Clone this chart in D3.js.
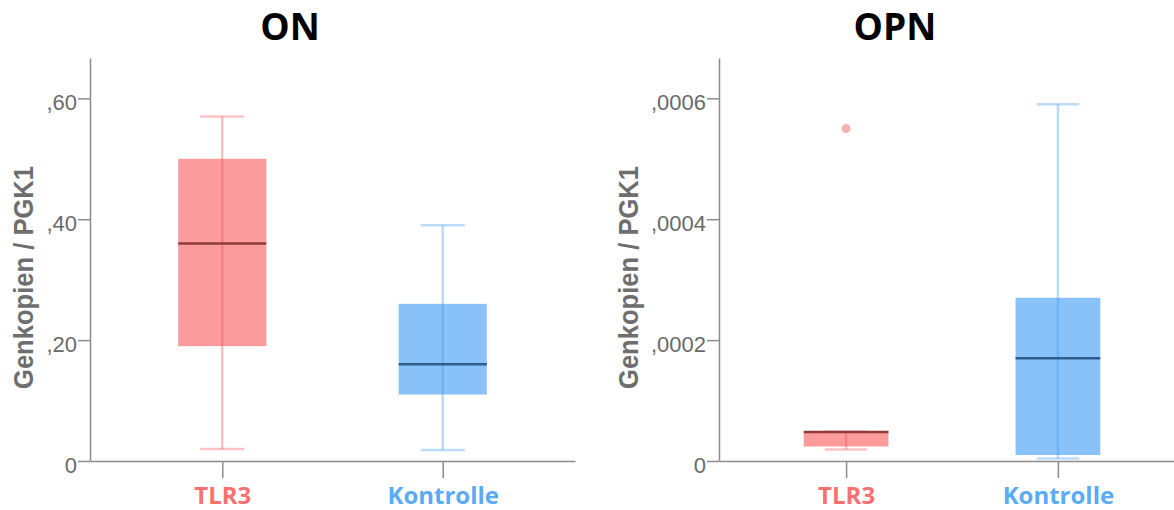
<!DOCTYPE html>
<html>
<head>
<meta charset="utf-8">
<script src="https://cdn.jsdelivr.net/npm/d3@7"></script>
<style>
  html, body { margin: 0; padding: 0; background: #ffffff; }
  svg { display: block; }
</style>
</head>
<body>
<svg id="chart" width="1174" height="510"></svg>
<script>
// Groups on the x axis
const categories = ["TLR3", "Kontrolle"];
const categoryColors = ["#fb6f6f", "#5aaaf5"];

// Box summaries: [lower whisker, Q1, median, Q3, upper whisker]
const onTLR3 = [0.02, 0.19, 0.36, 0.50, 0.57];
const onKontrolle = [0.018, 0.11, 0.16, 0.26, 0.39];
const opnTLR3 = [0.000019, 0.000024, 0.000048, 0.000049, 0.000049];
const opnKontrolle = [0.000004, 0.00001, 0.00017, 0.00027, 0.00059];

// Points beyond the whiskers
const onTLR3Outliers = [];
const onKontrolleOutliers = [];
const opnTLR3Outliers = [0.00055];
const opnKontrolleOutliers = [];

// Y-axis ticks and their labels
const onTicks = [0, 0.2, 0.4, 0.6];
const onTickLabels = ["0", ",20", ",40", ",60"];
const opnTicks = [0, 0.0002, 0.0004, 0.0006];
const opnTickLabels = ["0", ",0002", ",0004", ",0006"];

// Top of each value axis
const onMax = 0.6667;
const opnMax = 0.0006667;

const panelTitles = ["ON", "OPN"];
const yAxisTitle = "Genkopien / PGK1";

// Visual styling per group
const boxFill = ["#fb9b9b", "#88c2f9"];
const whiskerStroke = ["#f05050", "#3d9af0"];
const medianStroke = ["#8e3b3b", "#2f5e8e"];

const panels = [
  { title: panelTitles[0], boxes: [onTLR3, onKontrolle], outliers: [onTLR3Outliers, onKontrolleOutliers],
    max: onMax, ticks: onTicks, labels: onTickLabels, ox: 0, axisX: 90, right: 575 },
  { title: panelTitles[1], boxes: [opnTLR3, opnKontrolle], outliers: [opnTLR3Outliers, opnKontrolleOutliers],
    max: opnMax, ticks: opnTicks, labels: opnTickLabels, ox: 605, axisX: 114, right: 580 }
];

const svg = d3.select("#chart");
const plotTop = 58, plotBottom = 461;
const axisColor = "#8c8c8c";

panels.forEach(p => {
  const g = svg.append("g").attr("transform", `translate(${p.ox},0)`);

  const y = d3.scaleLinear().domain([0, p.max]).range([plotBottom, plotTop]);
  const x = d3.scalePoint().domain(categories).range([p.axisX, p.right]).padding(0.6);
  const step = x.step();
  const boxW = step * 0.4;
  const capW = step * 0.2;

  // Title
  g.append("text")
    .attr("x", 290).attr("y", 40)
    .attr("text-anchor", "middle")
    .attr("font-family", "'Open Sans', sans-serif")
    .attr("font-weight", 700)
    .attr("font-size", 37)
    .attr("fill", "#000")
    .text(p.title);

  // Y axis title
  g.append("text")
    .attr("transform", `translate(33,${(plotTop + plotBottom) / 2 + 18}) rotate(-90)`)
    .attr("text-anchor", "middle")
    .attr("font-family", "'Liberation Sans', Arial, sans-serif")
    .attr("font-weight", 700)
    .attr("font-size", 28)
    .attr("textLength", 223)
    .attr("lengthAdjust", "spacingAndGlyphs")
    .attr("fill", "#6e6e6e")
    .text(yAxisTitle);

  // Y axis
  const yAxis = g.append("g")
    .attr("transform", `translate(${p.axisX},0)`)
    .call(d3.axisLeft(y)
      .tickValues(p.ticks)
      .tickFormat((d, i) => p.labels[i])
      .tickSize(12)
      .tickSizeOuter(0)
      .tickPadding(1));
  yAxis.select(".domain").attr("stroke", axisColor).attr("stroke-width", 1.5);
  yAxis.selectAll(".tick line").attr("stroke", axisColor).attr("stroke-width", 1.5);
  yAxis.selectAll(".tick text")
    .attr("font-family", "'Liberation Sans', Arial, sans-serif")
    .attr("font-size", 22)
    .attr("fill", "#6a6a6a")
    .attr("dy", "0.52em");

  // X axis
  const xAxis = g.append("g")
    .attr("transform", `translate(0,${plotBottom})`)
    .call(d3.axisBottom(x).tickSize(17).tickSizeOuter(0).tickPadding(9));
  xAxis.select(".domain").attr("stroke", axisColor).attr("stroke-width", 1.5);
  xAxis.selectAll(".tick line").attr("stroke", axisColor).attr("stroke-width", 1.5);
  xAxis.selectAll(".tick text")
    .attr("font-family", "'Open Sans', sans-serif")
    .attr("font-weight", 700)
    .attr("font-size", 24)
    .attr("fill", (d, i) => categoryColors[i]);

  // Boxes
  p.boxes.forEach((b, i) => {
    const cx = x(categories[i]);
    const [lo, q1, med, q3, hi] = b;
    const bg = g.append("g");

    bg.append("rect")
      .attr("x", cx - boxW / 2).attr("width", boxW)
      .attr("y", y(q3)).attr("height", y(q1) - y(q3))
      .attr("fill", boxFill[i]);

    bg.append("line")
      .attr("x1", cx).attr("x2", cx)
      .attr("y1", y(lo)).attr("y2", y(hi))
      .attr("stroke", whiskerStroke[i]).attr("stroke-opacity", 0.35)
      .attr("stroke-width", 2.5);

    [lo, hi].forEach(v => {
      bg.append("line")
        .attr("x1", cx - capW / 2).attr("x2", cx + capW / 2)
        .attr("y1", y(v)).attr("y2", y(v))
        .attr("stroke", whiskerStroke[i]).attr("stroke-opacity", 0.35)
        .attr("stroke-width", 2.5);
    });

    bg.append("line")
      .attr("x1", cx - boxW / 2).attr("x2", cx + boxW / 2)
      .attr("y1", y(med)).attr("y2", y(med))
      .attr("stroke", medianStroke[i])
      .attr("stroke-width", 2.5);

    bg.selectAll("circle.outlier")
      .data(p.outliers[i])
      .join("circle")
      .attr("class", "outlier")
      .attr("cx", cx).attr("cy", d => y(d))
      .attr("r", 4.5)
      .attr("fill", whiskerStroke[i]).attr("fill-opacity", 0.45);
  });
});
</script>
</body>
</html>
